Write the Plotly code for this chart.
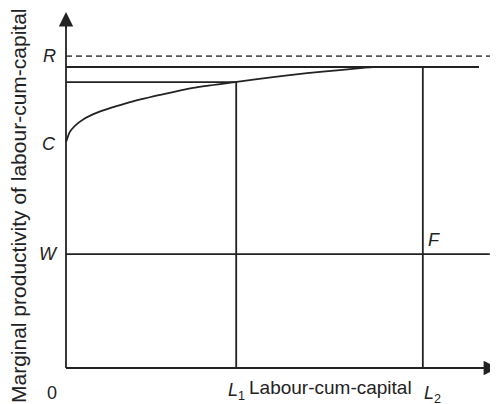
import plotly.graph_objects as go

# ---- data (abstract units) ----
R_level = 8.76          # dashed asymptote R
top_level = 8.455       # MP level reached at L2
L1_level = 8.03         # MP level at L1
C_level = 6.35          # starting MP (C)
W_level = 3.2           # wage W
L1 = 3.94
L2 = 8.26
top_line_end = 9.56
W_line_end = 9.81
x_max = 10.0
y_max = 10.0

curve_x = [0.0, 0.016, 0.093, 0.324, 0.632, 1.405, 2.176, 2.94, 3.91, 4.79, 5.58, 6.34, 6.875, 7.11, 8.26]
curve_y = [6.35, 6.40, 6.64, 6.92, 7.13, 7.44, 7.67, 7.87, 8.03, 8.17, 8.28, 8.37, 8.43, 8.45, 8.455]

ink = "#222222"
font_family = "Liberation Sans, Arial, sans-serif"

# layout geometry (page has an 8px body margin)
W_FIG, H_FIG = 490, 396
PX_X = 43.2   # px per x unit
PX_Y = 35.6   # px per y unit
M_L, M_T, M_B = 50, 4, 26
x_lo = -(58 - M_L) / PX_X
y_lo = -(H_FIG - M_B - 360) / PX_Y

fig = go.Figure()

def seg(xs, ys, color=ink, width=1.8, dash=None):
    fig.add_trace(go.Scatter(x=xs, y=ys, mode="lines",
                             line=dict(color=color, width=width, dash=dash),
                             hoverinfo="skip", showlegend=False))

# dashed R line
seg([0, x_max], [R_level, R_level], color="#555555", width=1.8, dash="6px,4px")
# horizontal top line
seg([0, top_line_end], [top_level, top_level])
# horizontal line at L1 level
seg([0, L1], [L1_level, L1_level])
# verticals
seg([L1, L1], [0, L1_level])
seg([L2, L2], [0, top_level])
# wage line
seg([0, W_line_end], [W_level, W_level])
# MP curve
fig.add_trace(go.Scatter(x=curve_x, y=curve_y, mode="lines",
                         line=dict(color=ink, width=1.8, shape="spline", smoothing=0.8),
                         hoverinfo="skip", showlegend=False))

# axes as lines
seg([0, x_max - 0.15], [0, 0])
seg([0, 0], [0, y_max - 0.2])

anns = []
# arrowheads
anns.append(dict(x=x_max, y=0, ax=x_max - 0.4, ay=0, xref="x", yref="y", axref="x", ayref="y",
                 showarrow=True, arrowhead=2, arrowsize=1.6, arrowwidth=1.8, arrowcolor=ink, text=""))
anns.append(dict(x=0, y=y_max, ax=0, ay=y_max - 0.5, xref="x", yref="y", axref="x", ayref="y",
                 showarrow=True, arrowhead=2, arrowsize=1.6, arrowwidth=1.8, arrowcolor=ink, text=""))

def lab(text, x, y, xanchor="center", yanchor="middle", xshift=0, yshift=0, size=18):
    anns.append(dict(text=text, x=x, y=y, xref="x", yref="y", showarrow=False,
                     xanchor=xanchor, yanchor=yanchor, xshift=xshift, yshift=yshift,
                     font=dict(family=font_family, size=size, color=ink)))

lab("<i>R</i>", 0, R_level, xanchor="right", xshift=-8)
lab("<i>C</i>", 0, C_level, xanchor="right", xshift=-8, yshift=-2)
lab("<i>W</i>", 0, W_level, xanchor="right", xshift=-6)
lab("<i>F</i>", L2, W_level, xanchor="left", yanchor="bottom", xshift=3, yshift=2)
lab("0", 0, 0, xanchor="right", yanchor="top", xshift=-7, yshift=-13)
lab("<i>L</i><sub>1</sub>", L1, 0, xanchor="center", yanchor="top", yshift=-10)
lab("<i>L</i><sub>2</sub>", L2, 0, xanchor="left", yanchor="top", xshift=-1, yshift=-13)
lab("Labour-cum-capital", 6.13, 0, xanchor="center", yanchor="top", yshift=-7, size=19)

anns.append(dict(text="Marginal productivity of labour-cum-capital", textangle=-90,
                 x=(11 - M_L) / (W_FIG - M_L), y=(H_FIG - M_B - 198) / (H_FIG - M_B - M_T),
                 xref="paper", yref="paper", showarrow=False,
                 xanchor="center", yanchor="middle",
                 font=dict(family=font_family, size=21, color=ink)))

fig.update_layout(
    width=W_FIG, height=H_FIG,
    margin=dict(l=M_L, r=0, t=M_T, b=M_B, pad=0),
    paper_bgcolor="white", plot_bgcolor="white",
    xaxis=dict(range=[x_lo, x_max], visible=False, fixedrange=True),
    yaxis=dict(range=[y_lo, y_max], visible=False, fixedrange=True),
    annotations=anns,
    showlegend=False,
)

fig.write_html("out.html")
